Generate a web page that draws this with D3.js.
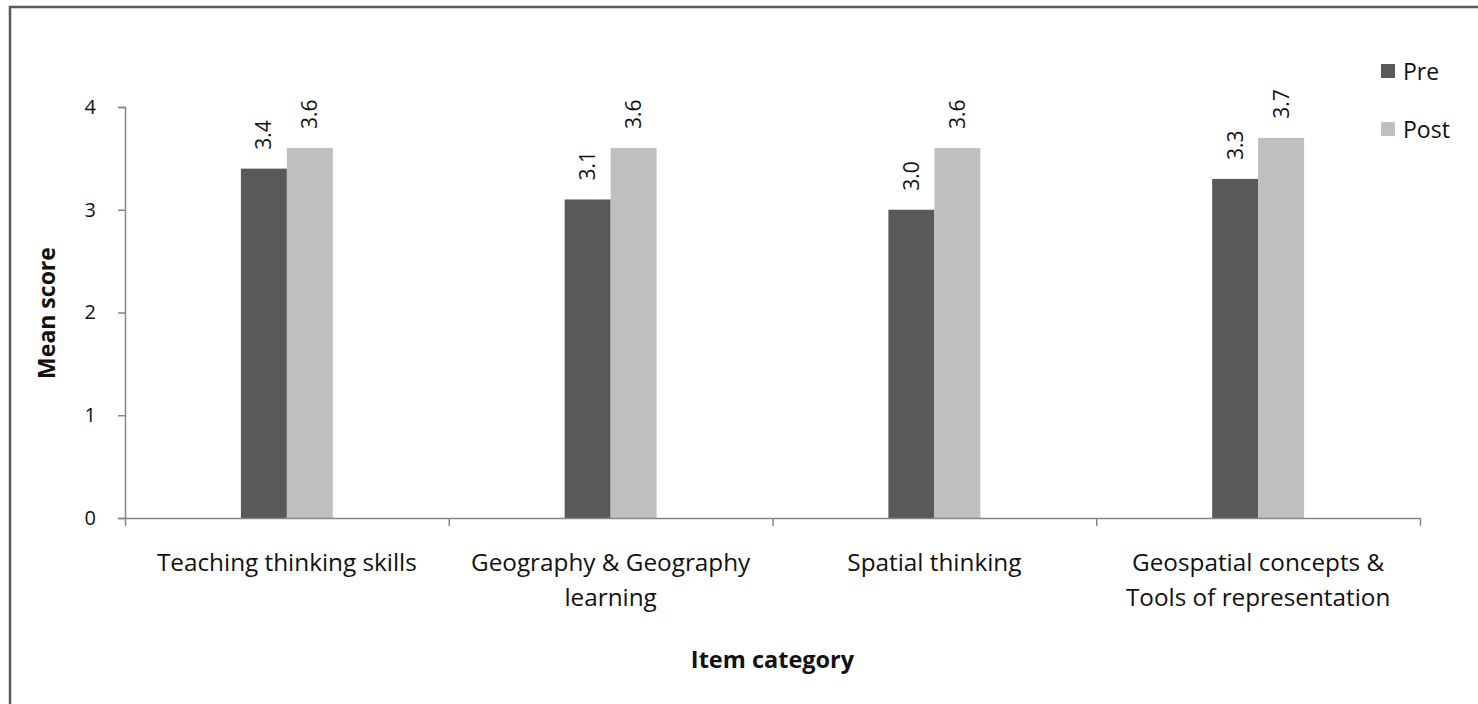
<!DOCTYPE html>
<html><head><meta charset="utf-8">
<script src="https://cdn.jsdelivr.net/npm/d3@7"></script>
<style>html,body{margin:0;background:#fff;overflow:hidden;} svg{display:block;}</style>
</head><body>
<svg id="c" width="1478" height="704"></svg>
<script>
const categories = [["Teaching thinking skills"],["Geography & Geography","learning"],["Spatial thinking"],["Geospatial concepts &","Tools of representation"]];
const categoryKeys = ["Teaching thinking skills","Geography & Geography learning","Spatial thinking","Geospatial concepts & Tools of representation"];
const seriesNames = ["Pre","Post"];
const preValues = [3.4, 3.1, 3.0, 3.3];
const postValues = [3.6, 3.6, 3.6, 3.7];
const yTicks = [0,1,2,3,4];
const colors = {Pre:"#595959", Post:"#bfbfbf"};

const svg = d3.select("#c");
const font = "'Open Sans', Lato, sans-serif";
const axisColor = "#868686";
const mLeft = 125, mRight = 1420, mTop = 107, mBottom = 518;

// outer border
svg.append("rect").attr("x",10).attr("y",7).attr("width",1490).attr("height",720)
  .attr("fill","none").attr("stroke","#5a5a5a").attr("stroke-width",2.5);

const x0 = d3.scaleBand().domain(categoryKeys).range([mLeft,mRight]).paddingInner(0.716).paddingOuter(0.358);
const x1 = d3.scaleBand().domain(seriesNames).range([0,x0.bandwidth()]);
const y = d3.scaleLinear().domain([0,4]).range([mBottom,mTop]);
const xb = d3.scaleLinear().domain([0,categoryKeys.length]).range([mLeft,mRight]);

const data = categoryKeys.map((k,i)=>({k, vals:[{s:"Pre",v:preValues[i]},{s:"Post",v:postValues[i]}]}));

const g = svg.append("g").selectAll("g").data(data).join("g")
  .attr("transform",d=>`translate(${x0(d.k)},0)`);
g.selectAll("rect").data(d=>d.vals).join("rect")
  .attr("x",d=>x1(d.s)).attr("width",x1.bandwidth())
  .attr("y",d=>y(d.v)).attr("height",d=>y(0)-y(d.v))
  .attr("fill",d=>colors[d.s]);
g.selectAll("text").data(d=>d.vals).join("text")
  .attr("transform",d=>`translate(${x1(d.s)+x1.bandwidth()/2+7.5},${y(d.v)-19}) rotate(-90)`)
  .attr("text-anchor","start").attr("font-family",font).attr("font-size",21).attr("fill","#111")
  .text(d=>d.v.toFixed(1));

// y axis
const ya = svg.append("g").attr("transform",`translate(${mLeft},0)`)
  .call(d3.axisLeft(y).tickValues(yTicks).tickFormat(d3.format("d")).tickSize(7).tickPadding(22));
ya.select(".domain").attr("stroke",axisColor).attr("stroke-width",1.5);
ya.selectAll(".tick line").attr("stroke",axisColor).attr("stroke-width",1.5);
ya.selectAll(".tick text").attr("font-family",font).attr("font-size",20).attr("fill","#111");

// x axis
const xa = svg.append("g").attr("transform",`translate(0,${mBottom})`)
  .call(d3.axisBottom(xb).tickValues(d3.range(categoryKeys.length+1)).tickFormat("").tickSize(8).tickSizeOuter(0));
xa.select(".domain").attr("stroke",axisColor).attr("stroke-width",1.5);
xa.selectAll(".tick line").attr("stroke",axisColor).attr("stroke-width",1.5);

// category labels
const cl = svg.append("g").selectAll("text").data(categoryKeys).join("text")
  .attr("x",d=>x0(d)+x0.bandwidth()/2).attr("y",571)
  .attr("text-anchor","middle").attr("font-family",font).attr("font-size",24.3).attr("fill","#111");
cl.each(function(d,i){
  const t = d3.select(this);
  categories[i].forEach((line,j)=>{
    t.append("tspan").attr("x",x0(d)+x0.bandwidth()/2).attr("dy", j===0?0:35).text(line);
  });
});

// axis titles
svg.append("text").attr("x",(mLeft+mRight)/2).attr("y",668).attr("text-anchor","middle")
  .attr("font-family",font).attr("font-weight","bold").attr("font-size",23.5).attr("fill","#111")
  .text("Item category");
svg.append("text").attr("transform",`translate(55,313) rotate(-90)`).attr("text-anchor","middle")
  .attr("font-family",font).attr("font-weight","bold").attr("font-size",23).attr("fill","#111")
  .text("Mean score");

// legend
const lg = svg.append("g").selectAll("g").data(seriesNames).join("g")
  .attr("transform",(d,i)=>`translate(1381,${64+i*58})`);
lg.append("rect").attr("width",14).attr("height",14).attr("fill",d=>colors[d]);
lg.append("text").attr("x",22).attr("y",15.5).attr("font-family",font).attr("font-size",23).attr("fill","#111").text(d=>d);
</script>
</body></html>
